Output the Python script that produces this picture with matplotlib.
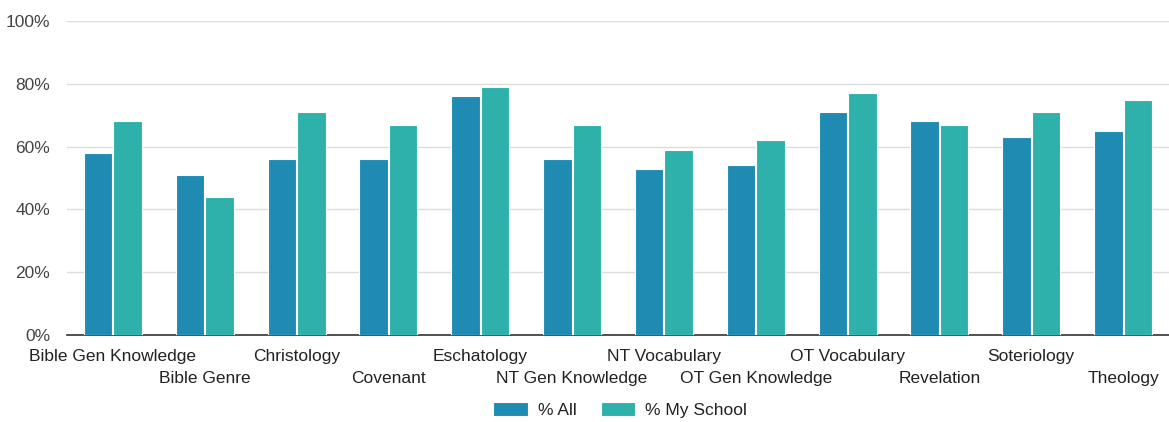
import numpy as np
import matplotlib.pyplot as plt

plt.rcParams['font.family'] = ['Liberation Sans', 'DejaVu Sans']

categories = ['Bible Gen Knowledge', 'Bible Genre', 'Christology', 'Covenant',
              'Eschatology', 'NT Gen Knowledge', 'NT Vocabulary', 'OT Gen Knowledge',
              'OT Vocabulary', 'Revelation', 'Soteriology', 'Theology']
pct_all = [58, 51, 56, 56, 76, 56, 53, 54, 71, 68, 63, 65]
pct_school = [68, 44, 71, 67, 79, 67, 59, 62, 77, 67, 71, 75]
yticks = [0, 20, 40, 60, 80, 100]

blue = '#1f8ab2'
teal = '#2db1aa'

fig = plt.figure(figsize=(11.69, 4.22), dpi=100)
ax = fig.add_axes([67 / 1169, 1 - 335 / 422, 1 - 67 / 1169, (335 - 21) / 422])

x = np.arange(len(categories))
w = 0.31
ax.bar(x - w / 2 - 0.005, pct_all, w, color=blue, edgecolor='white', linewidth=0.8,
       label='% All', zorder=3)
ax.bar(x + w / 2 + 0.005, pct_school, w, color=teal, edgecolor='white', linewidth=0.8,
       label='% My School', zorder=3)

ax.set_xlim(-0.5, len(categories) - 0.5)
ax.set_ylim(0, 100)
ax.set_yticks(yticks)
ax.set_yticklabels([f'{v}%' for v in yticks])
ax.yaxis.grid(True, color='#dcdcdc', linewidth=1, zorder=0)
ax.set_axisbelow(True)
ax.tick_params(axis='y', length=0, labelsize=12.5, colors='#444444', pad=12)
ax.tick_params(axis='x', length=0)

ax.set_xticks(x)
ax.set_xticklabels([])
for i, name in enumerate(categories):
    yoff = -0.07 if i % 2 == 0 else -0.14
    ax.text(i, yoff, name, transform=ax.get_xaxis_transform(), ha='center', va='center',
            fontsize=12.5, color='#222222')

for s in ['top', 'right', 'left']:
    ax.spines[s].set_visible(False)
ax.spines['bottom'].set_color('#333333')
ax.spines['bottom'].set_linewidth(1.2)

fig.legend(loc='center', bbox_to_anchor=(620 / 1169, 1 - 410 / 422), ncol=2, frameon=False,
           fontsize=12.5, handlelength=2.0, handleheight=0.9, columnspacing=1.4,
           handletextpad=0.55, labelcolor='#222222')

fig.savefig('out.png', dpi=100)
